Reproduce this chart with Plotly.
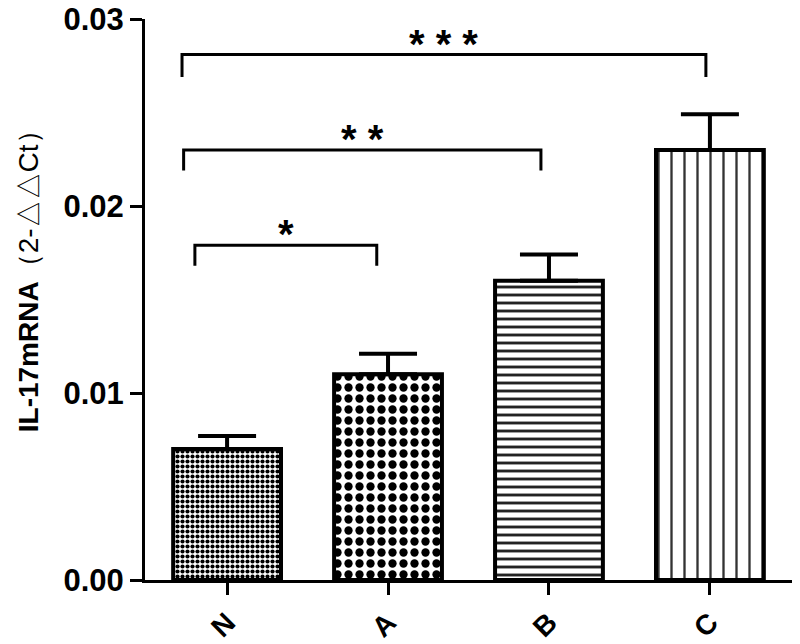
import plotly.graph_objects as go

# ---- data ----
groups = ["N", "A", "B", "C"]
means = [0.0070, 0.0110, 0.0160, 0.0230]
errors = [0.0007, 0.0011, 0.0014, 0.0019]
patterns = [".", ".", "-", "|"]
pattern_sizes = [5, 11, 8, 13]
pattern_solidity = [0.55, 0.45, 0.36, 0.18]
pattern_colors = ["#000000", "#000000", "#222222", "#333333"]

y_ticks = [0.0, 0.01, 0.02, 0.03]
y_tick_labels = ["0.00", "0.01", "0.02", "0.03"]

# significance brackets (x in group units, y in data units)
bracket_left = [-0.20, -0.27, -0.28]
bracket_right = [0.93, 1.95, 2.975]
bracket_top = [0.0179, 0.0230, 0.0281]
bracket_drop = [0.0011, 0.0011, 0.0012]
bracket_labels = ["*", "* *", "* * *"]

xpos = list(range(len(groups)))
FONT = "Liberation Sans, Arial, sans-serif"

fig = go.Figure()
for i, g in enumerate(groups):
    fig.add_trace(go.Bar(
        x=[xpos[i]], y=[means[i]], width=0.67,
        marker=dict(
            color="white",
            line=dict(color="black", width=4),
            pattern=dict(shape=patterns[i], size=pattern_sizes[i],
                         solidity=pattern_solidity[i],
                         fgcolor=pattern_colors[i], bgcolor="white",
                         fgopacity=1, fillmode="overlay"),
        ),
        error_y=dict(type="data", array=[errors[i]], arrayminus=[0],
                     symmetric=False, color="black", thickness=4, width=29),
        showlegend=False, hoverinfo="skip",
    ))

for l, r, t, d, lab in zip(bracket_left, bracket_right, bracket_top, bracket_drop, bracket_labels):
    fig.add_trace(go.Scatter(
        x=[l, l, r, r], y=[t - d, t, t, t - d], mode="lines",
        line=dict(color="black", width=3), showlegend=False, hoverinfo="skip",
    ))
    fig.add_annotation(x=(l + r) / 2, y=t, text=lab, showarrow=False,
                       xref="x", yref="y", yanchor="bottom", yshift=-13,
                       font=dict(family=FONT, size=40, color="black", weight="bold"))

fig.add_annotation(
    xref="paper", yref="paper", x=0, y=0.545, xshift=-117,
    text="<b>IL-17mRNA</b>（2-△△Ct）", textangle=-90, showarrow=False,
    xanchor="center", yanchor="middle",
    font=dict(family=FONT, size=28, color="black"),
)

axis_common = dict(
    showline=True, linecolor="black", linewidth=3, mirror=False,
    ticks="outside", ticklen=12, tickwidth=3, tickcolor="black",
    showgrid=False, zeroline=False, automargin=False,
)

fig.update_layout(
    width=800, height=644,
    margin=dict(l=145, r=8, t=19, b=64),
    plot_bgcolor="white", paper_bgcolor="white",
    bargap=0.3,
    xaxis=dict(range=[-0.51, 3.51], tickvals=xpos, ticktext=groups,
               tickangle=-45,
               tickfont=dict(family=FONT, size=28, color="black", weight="bold"),
               **axis_common),
    yaxis=dict(range=[0, 0.03], tickvals=y_ticks, ticktext=y_tick_labels,
               tickfont=dict(family=FONT, size=31, color="black", weight="bold"),
               **axis_common),
)

fig.write_html("out.html",
               config={"displayModeBar": False},
               post_script="document.body.style.margin='0';document.body.style.overflow='hidden';")
